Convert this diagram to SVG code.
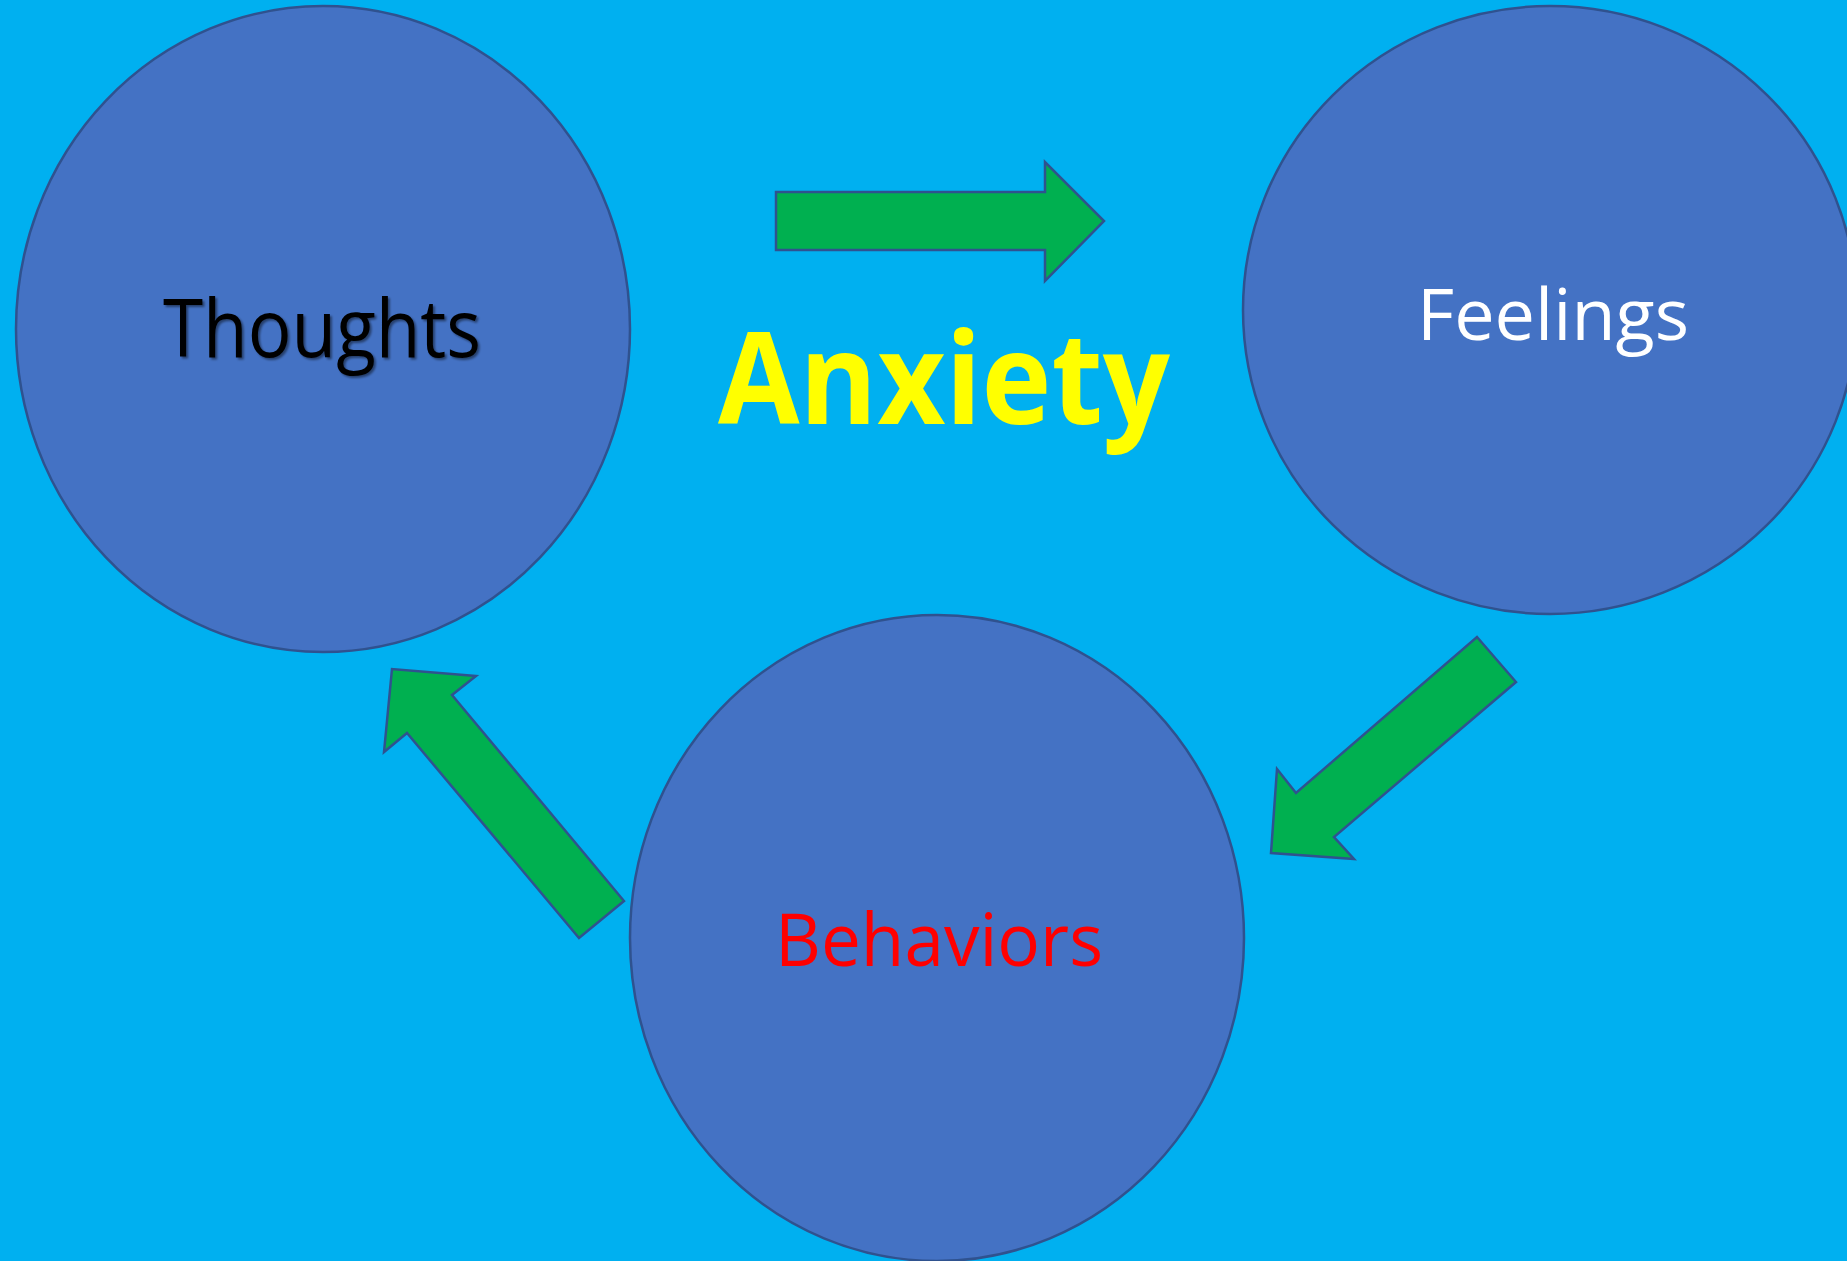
<svg xmlns="http://www.w3.org/2000/svg" width="1847" height="1261" viewBox="0 0 1847 1261">
  <style>
    .node { fill: #4472C4; stroke: #2F528F; stroke-width: 2.5; }
    .arrow { fill: #00B050; stroke: #2F528F; stroke-width: 2.5; stroke-linejoin: miter; }
    .label { font-family: "Open Sans", "Liberation Sans", sans-serif; }
  </style>
  <defs>
    <filter id="softShadow" x="-10%" y="-20%" width="120%" height="140%">
      <feDropShadow dx="2" dy="2" stdDeviation="1.2" flood-color="#000000" flood-opacity="0.45"/>
    </filter>
  </defs>

  <!-- background -->
  <rect x="0" y="0" width="1847" height="1261" fill="#00B0F0"/>

  <!-- cycle arrows -->
  <g id="connectors">
    <polygon class="arrow" points="776,192 1045,192 1045,162 1104,221 1045,281 1045,250 776,250"/>
    <polygon class="arrow" points="1477,637 1516,682 1334,837 1354,859 1271,853 1277,769 1296,793"/>
    <polygon class="arrow" points="624,901 579,938 407,733 384,752 392,669 476,676 452,695"/>
  </g>

  <g id="thoughts">
    <ellipse class="node" cx="323" cy="329" rx="307" ry="323"/>
    <text class="label" x="163" y="357" font-size="80" fill="#000000" textLength="318" lengthAdjust="spacingAndGlyphs" filter="url(#softShadow)">Thoughts</text>
  </g>

  <g id="feelings">
    <ellipse class="node" cx="1550" cy="310" rx="307" ry="304"/>
    <text class="label" x="1417" y="340" font-size="72" fill="#FFFFFF" textLength="272" lengthAdjust="spacingAndGlyphs">Feelings</text>
  </g>

  <g id="behaviors">
    <ellipse class="node" cx="937" cy="938" rx="307" ry="323"/>
    <text class="label" x="775" y="966" font-size="74" fill="#FF0000" textLength="328" lengthAdjust="spacingAndGlyphs">Behaviors</text>
  </g>

  <g id="anxiety">
    <text class="label" x="718" y="424" font-size="127" font-weight="bold" fill="#FFFF00" textLength="452" lengthAdjust="spacingAndGlyphs">Anxiety</text>
  </g>
</svg>
